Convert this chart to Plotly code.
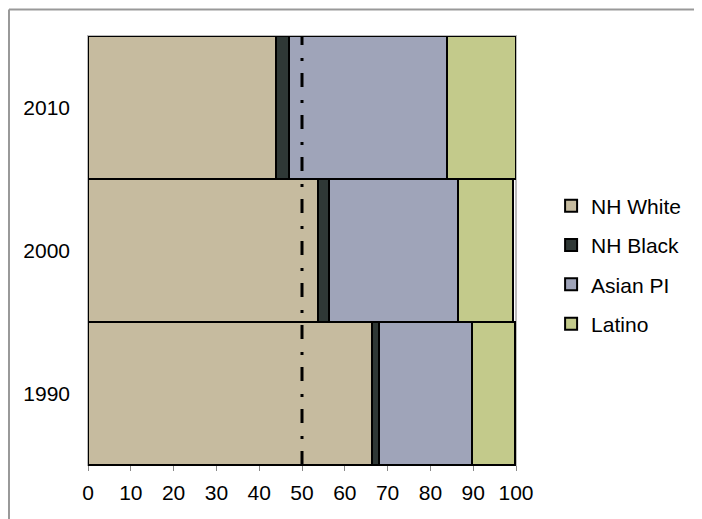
import plotly.graph_objects as go

years = ["1990", "2000", "2010"]
nh_white = [66.4, 53.7, 44.0]
nh_black = [1.6, 2.5, 3.0]
asian_pi = [21.8, 30.2, 36.8]
latino = [10.0, 12.9, 16.2]
x_ticks = [0, 10, 20, 30, 40, 50, 60, 70, 80, 90, 100]
ref_value = 50

series = [
    ("NH White", nh_white, "#C6BB9F"),
    ("NH Black", nh_black, "#2F3836"),
    ("Asian PI", asian_pi, "#9FA4B9"),
    ("Latino", latino, "#C3CA8B"),
]

fig = go.Figure()
for name, vals, color in series:
    fig.add_trace(go.Bar(
        y=years, x=vals, name=name, orientation="h",
        marker=dict(color=color, line=dict(color="black", width=2)),
        legendgroup=name,
    ))

FONT = "Liberation Sans, Arial, sans-serif"

fig.update_layout(
    width=702, height=519,
    barmode="stack", bargap=0,
    plot_bgcolor="white", paper_bgcolor="white",
    margin=dict(l=80, r=194, t=28, b=62),
    font=dict(family=FONT, size=21, color="black"),
    showlegend=True,
    legend=dict(
        traceorder="grouped", tracegroupgap=9,
        x=1.082, xanchor="left", y=0.466, yanchor="middle",
        font=dict(family=FONT, size=21, color="black"),
        bgcolor="rgba(0,0,0,0)",
    ),
    xaxis=dict(
        range=[0, 100], tickvals=x_ticks, ticktext=[str(v) for v in x_ticks],
        showgrid=False, zeroline=False,
        showline=True, linecolor="black", linewidth=1,
        ticks="outside", ticklen=5, tickcolor="#888888", tickwidth=1,
        ticklabelstandoff=4,
        tickfont=dict(family=FONT, size=21, color="black"),
        fixedrange=True,
    ),
    yaxis=dict(
        categoryorder="array", categoryarray=years,
        showgrid=False, zeroline=False, showline=False,
        ticks="", ticklabelstandoff=17,
        tickfont=dict(family=FONT, size=21, color="black"),
        fixedrange=True,
    ),
    shapes=[
        # plot-area border (light grey), below bars
        dict(type="rect", xref="paper", yref="paper", x0=0, x1=1, y0=0, y1=1,
             line=dict(color="#BBBBBB", width=2), layer="below"),
        # outer chart border (top and left visible)
        dict(type="line", xref="paper", yref="paper", x0=-0.1846, x1=1.45, y0=1.062, y1=1.062,
             line=dict(color="#999999", width=2)),
        dict(type="line", xref="paper", yref="paper", x0=-0.1846, x1=-0.1846, y0=-0.2, y1=1.062,
             line=dict(color="#999999", width=2)),
        # reference line at 50
        dict(type="line", xref="x", yref="paper", x0=ref_value, x1=ref_value, y0=0, y1=1,
             line=dict(color="black", width=3, dash="14px,12px,3px,13px"), layer="above"),
    ],
)

fig.write_html("out.html")
